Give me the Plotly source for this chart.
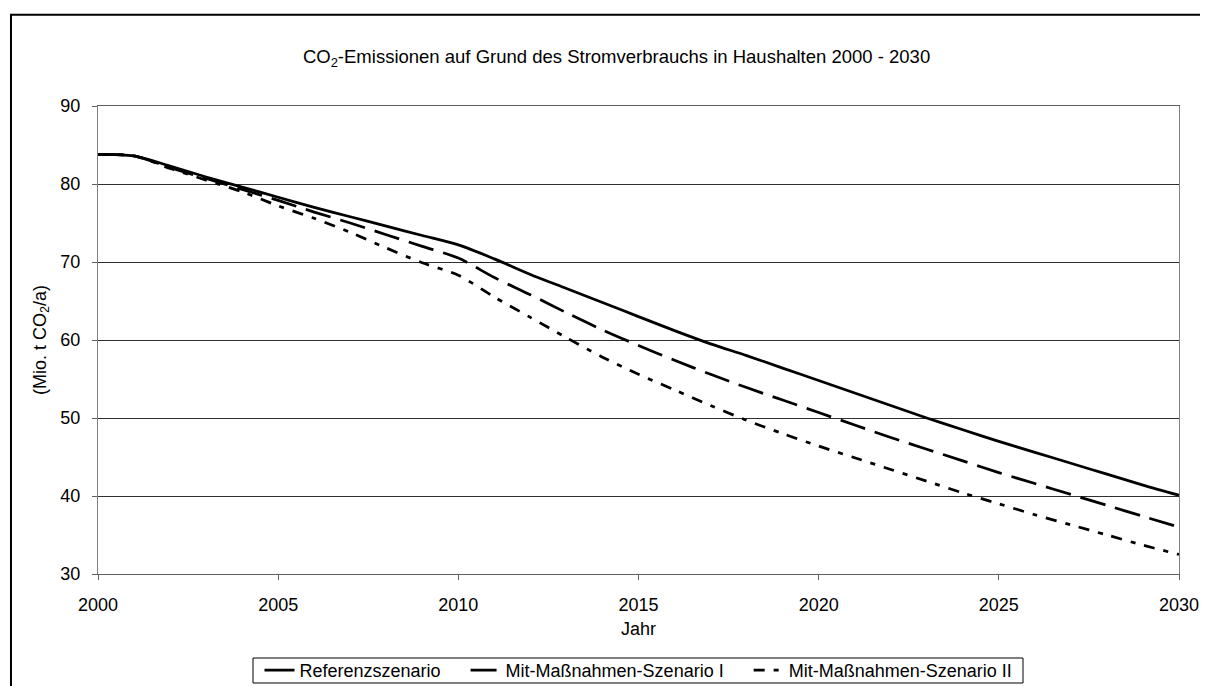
import plotly.graph_objects as go

# Daten, Mio. t CO2 pro Jahr
jahre = list(range(2000, 2031))
referenz = [83.8, 83.6, 82.3, 80.9, 79.6, 78.3, 77.0, 75.8, 74.6, 73.4, 72.2,
            70.4, 68.4, 66.6, 64.8, 63.0, 61.2, 59.5, 58.0, 56.4, 54.8,
            53.2, 51.6, 50.0, 48.5, 47.0, 45.6, 44.2, 42.8, 41.4, 40.1]
szenario_1 = [83.8, 83.6, 82.1, 80.7, 79.3, 77.9, 76.4, 75.0, 73.5, 72.0, 70.5,
              68.0, 65.8, 63.5, 61.3, 59.3, 57.4, 55.6, 53.9, 52.3, 50.7,
              49.1, 47.5, 46.0, 44.5, 43.0, 41.6, 40.2, 38.8, 37.4, 36.0]
szenario_2 = [83.8, 83.6, 82.0, 80.5, 79.0, 77.2, 75.6, 73.8, 71.8, 69.9, 68.3,
              65.5, 62.9, 60.3, 57.8, 55.6, 53.6, 51.6, 49.7, 48.0, 46.4,
              44.9, 43.4, 41.9, 40.4, 39.0, 37.6, 36.3, 35.0, 33.7, 32.5]
namen = ["Referenzszenario", "Mit-Maßnahmen-Szenario I", "Mit-Maßnahmen-Szenario II"]

font_name = "Liberation Sans, Arial, sans-serif"
pad = "\u00a0" * 4  # etwas Abstand zwischen den Legendeneintraegen

fig = go.Figure()
stile = ["solid", "26px,10px", "11px,9px,5px,9px"]
for i, (werte, name, dash) in enumerate(zip([referenz, szenario_1, szenario_2], namen, stile)):
    fig.add_trace(go.Scatter(x=jahre, y=werte, name=name + (pad if i < 2 else ""), mode="lines",
                             line=dict(color="black", width=2.75, dash=dash,
                                       shape="spline", smoothing=0.8)))

# aeusserer Rahmen (Seite hat 8px Rand, Figur beginnt bei 8/8)
fig.add_shape(type="rect", xref="paper", yref="paper",
              x0=-0.0805, x1=1.05, y0=-0.3, y1=1.195,
              line=dict(color="black", width=2), layer="below")
# Rahmen der Legende
fig.add_shape(type="rect", xref="paper", yref="paper",
              x0=0.1434, x1=0.8557, y0=-0.2329, y1=-0.1795,
              line=dict(color="black", width=1), layer="below")

fig.update_xaxes(range=[2000, 2030], tickvals=list(range(2000, 2031, 5)),
                 showgrid=False, showline=True, linecolor="#606060", linewidth=1,
                 mirror=True, ticks="outside", ticklen=5, tickcolor="#606060",
                 ticklabelstandoff=9,
                 title=dict(text="Jahr", standoff=8, font=dict(size=18)), zeroline=False)
fig.update_yaxes(range=[30, 90], tickvals=list(range(30, 91, 10)),
                 showgrid=True, gridcolor="#303030", gridwidth=1,
                 showline=True, linecolor="#808080", linewidth=1, mirror=True,
                 ticks="outside", ticklen=5, tickcolor="#606060",
                 ticklabelstandoff=8,
                 title=dict(text="(Mio. t CO<sub>2</sub>/a)", standoff=9, font=dict(size=18)),
                 zeroline=False)

fig.update_layout(
    width=1200, height=678,
    margin=dict(l=90, r=29, t=98, b=112, autoexpand=False),
    paper_bgcolor="white", plot_bgcolor="white",
    font=dict(family=font_name, size=18, color="black"),
    title=dict(text="CO<sub>2</sub>-Emissionen auf Grund des Stromverbrauchs in Haushalten 2000 - 2030",
               x=0.4797, xref="paper", xanchor="center", y=1 - 49 / 678, yanchor="middle",
               font=dict(size=18.5)),
    legend=dict(orientation="h", x=0.5, xanchor="center", y=-0.206, yanchor="middle",
                borderwidth=0, bgcolor="rgba(0,0,0,0)",
                font=dict(size=18), itemwidth=30, tracegroupgap=0),
    showlegend=True,
)

fig.write_html("out.html")
